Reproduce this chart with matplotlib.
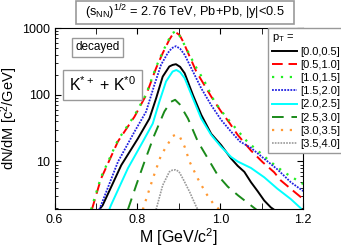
import matplotlib
matplotlib.use('Agg')
import matplotlib.pyplot as plt
import numpy as np
from matplotlib.patches import Rectangle
from matplotlib.ticker import MultipleLocator, FixedLocator, FixedFormatter

plt.rcParams['font.family'] = ['Liberation Sans', 'DejaVu Sans']
plt.rcParams['mathtext.fontset'] = 'custom'
plt.rcParams['mathtext.rm'] = 'Liberation Sans'
plt.rcParams['mathtext.it'] = 'Liberation Sans:italic'

# pT bins and the curves
labels = ['[0.0,0.5]', '[0.5,1.0]', '[1.0,1.5]', '[1.5,2.0]',
          '[2.0,2.5]', '[2.5,3.0]', '[3.0,3.5]', '[3.5,4.0]']

m_00 = [0.708, 0.716, 0.761, 0.801, 0.829, 0.845, 0.861, 0.877, 0.885, 0.893, 0.903, 0.914,
        0.934, 0.954, 0.978, 1.002, 1.026, 1.042, 1.058, 1.074, 1.090, 1.106, 1.122, 1.135]
y_00 = [1.9, 2.2, 8.8, 22, 44, 88, 187, 265, 280, 287, 262, 210,
        99, 50, 26, 17.6, 11.1, 8.6, 7.0, 4.9, 3.6, 2.6, 2.05, 1.8]

m_05 = [0.690, 0.712, 0.753, 0.793, 0.821, 0.845, 0.861, 0.877, 0.885, 0.893, 0.902, 0.910,
        0.942, 0.978, 1.002, 1.022, 1.042, 1.074, 1.102, 1.130, 1.146, 1.170, 1.198]
y_05 = [1.9, 5.5, 20, 47, 99, 250, 420, 670, 800, 860, 780, 631,
        223, 94, 56, 38, 25, 14.6, 9.8, 6.9, 5.2, 3.9, 2.8]

m_10 = [0.688, 0.712, 0.753, 0.793, 0.821, 0.845, 0.861, 0.877, 0.885, 0.893, 0.902, 0.922,
        0.938, 0.962, 0.986, 1.010, 1.042, 1.066, 1.090, 1.122, 1.154, 1.186, 1.200]
y_10 = [1.9, 5.8, 21, 49, 102, 260, 440, 700, 840, 900, 760, 446,
        281, 158, 79, 50, 29, 19.5, 14.6, 9.8, 6.9, 5.2, 4.6]

m_15 = [0.708, 0.712, 0.753, 0.793, 0.821, 0.841, 0.857, 0.873, 0.883, 0.893, 0.903, 0.914,
        0.934, 0.954, 0.978, 1.002, 1.026, 1.047, 1.074, 1.106, 1.138, 1.170, 1.200]
y_15 = [1.9, 2.2, 9.9, 28, 56, 141, 281, 420, 500, 535, 490, 397,
        223, 125, 70, 42, 28, 20, 16, 11, 7.6, 4.9, 3.6]

m_20 = [0.732, 0.736, 0.777, 0.813, 0.837, 0.853, 0.869, 0.885, 0.894, 0.903, 0.914, 0.934,
        0.954, 0.978, 1.002, 1.026, 1.042, 1.074, 1.106, 1.138, 1.170, 1.194]
y_20 = [1.9, 2.2, 7.9, 19.8, 37, 79, 158, 223, 235, 218, 177, 88,
        44, 25, 16.6, 11.7, 10.0, 8.0, 5.8, 3.9, 2.74, 2.0]

m_25 = [0.777, 0.797, 0.817, 0.841, 0.865, 0.880, 0.891, 0.902, 0.922, 0.946, 0.970, 0.994,
        1.018, 1.043, 1.066, 1.087]
y_25 = [1.9, 4.4, 9.9, 25, 56, 78, 84, 72, 44, 19.8, 11.1, 6.2,
        4.2, 3.1, 2.4, 1.9]

m_30 = [0.813, 0.837, 0.857, 0.877, 0.885, 0.894, 0.903, 0.914, 0.926, 0.946, 0.966, 0.986,
        0.998]
y_30 = [1.9, 5.5, 12.4, 19.8, 24, 25.5, 23, 16.6, 9.9, 5.5, 3.3, 2.2,
        1.9]

m_35 = [0.845, 0.861, 0.877, 0.884, 0.892, 0.900, 0.910, 0.926, 0.942, 0.946]
y_35 = [1.9, 4.4, 7.0, 7.4, 7.5, 7.1, 5.5, 3.5, 2.1, 1.9]

fig = plt.figure(figsize=(3.41, 2.48), dpi=100)
ax = fig.add_axes([0.160, 0.156, 0.729, 0.731])

ax.plot(m_00, y_00, color='black', lw=1.4, ls='-', label=labels[0])
ax.plot(m_05, y_05, color='red', lw=1.4, ls=(0, (5.5, 3)), label=labels[1])
ax.plot(m_10, y_10, color='#22ee22', lw=1.6, ls=(0, (1, 3)), label=labels[2])
ax.plot(m_15, y_15, color='#2020e0', lw=1.3, ls=(0, (1, 0.7)), label=labels[3])
ax.plot(m_20, y_20, color='cyan', lw=1.4, ls='-', label=labels[4])
ax.plot(m_25, y_25, color='#1a8a1a', lw=1.4, ls=(0, (6, 4)), label=labels[5])
ax.plot(m_30, y_30, color='#ff9933', lw=1.6, ls=(0, (1, 3)), label=labels[6])
ax.plot(m_35, y_35, color='#999999', lw=1.2, ls=(0, (1, 0.7)), label=labels[7])

ax.set_yscale('log')
ax.set_xlim(0.6, 1.2)
ax.set_ylim(1.92, 1000)
ax.set_xticks([0.6, 0.8, 1.0, 1.2])
ax.set_xticklabels(['0.6', '0.8', '1.0', '1.2'])
ax.xaxis.set_minor_locator(MultipleLocator(0.1))
ax.yaxis.set_major_locator(FixedLocator([10, 100, 1000]))
ax.yaxis.set_major_formatter(FixedFormatter(['10', '100', '1000']))
ax.tick_params(which='both', direction='in', top=True, right=True, labelsize=9)
ax.tick_params(which='major', length=4)
ax.tick_params(which='minor', length=2.5)
ax.tick_params(axis='x', which='minor', length=4)

ax.set_xlabel('M [GeV/c$^2$]', fontsize=11.5, labelpad=0)
ax.set_ylabel('dN/dM [c$^2$/GeV]', fontsize=10.5, labelpad=1)

# header box across the top
fig.patches.append(Rectangle((0.223, 0.903), 0.639, 0.093, transform=fig.transFigure,
                             fc='white', ec='#999999', lw=1.2))
fig.text(0.543, 0.95, '(s$_\\mathrm{NN}$)$^\\mathrm{1/2}$ = 2.76 TeV, Pb+Pb, |y|<0.5',
         ha='center', va='center', fontsize=9.2)

box = dict(boxstyle='square,pad=0.3', fc='white', ec='#999999', lw=1)
ax.text(0.174, 0.895, 'decayed', transform=ax.transAxes, ha='center', va='center',
        fontsize=8.5, bbox=box)
ax.text(0.193, 0.688, 'K$^{*+}$ + K$^{*0}$', transform=ax.transAxes, ha='center',
        va='center', fontsize=11.5, bbox=dict(boxstyle='square,pad=0.35', fc='white',
                                               ec='#999999', lw=1))

leg = ax.legend(loc='upper left', bbox_to_anchor=(0.86, 1.0), fontsize=8,
                title='p$_\\mathrm{T}$ =', title_fontsize=8, fancybox=False,
                edgecolor='#999999', framealpha=1, handlelength=2.25,
                labelspacing=0.28, borderpad=0.35, handletextpad=0.25,
                borderaxespad=0)
leg._legend_box.align = 'left'
leg.get_frame().set_linewidth(1)

fig.savefig('out.png', dpi=100)
